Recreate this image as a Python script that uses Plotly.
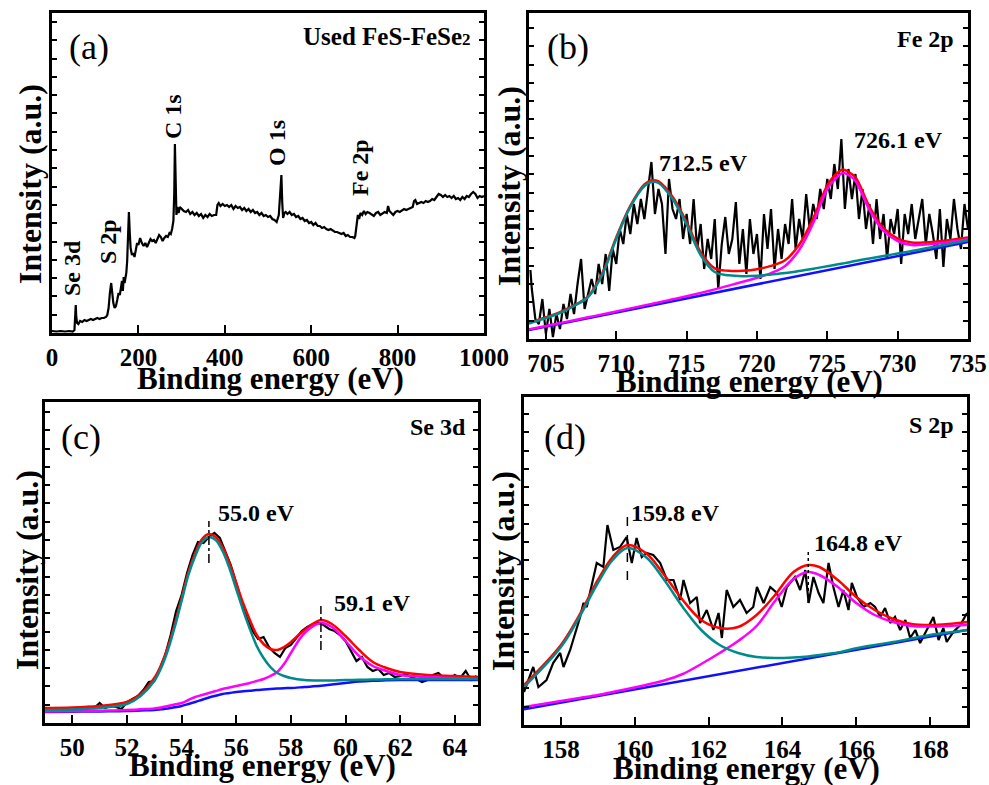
import plotly.graph_objects as go

W, H = 989, 785
FONT = "Liberation Serif"

# ---------------- Panel (a): survey spectrum ----------------
a_x = [0, 10, 20, 30, 40, 48, 52, 54, 55, 56, 58, 61, 65, 70, 75, 80, 85, 90, 95, 100, 105, 110, 115, 120, 125,
       128, 131, 134, 137, 139, 142, 145, 148, 151, 154, 157, 160, 162, 164, 166, 168, 170, 172, 174, 176, 178,
       180, 182, 185, 188, 191, 194, 197, 200, 204, 208, 212, 216, 220, 224, 228, 232, 236, 240, 244, 248, 252,
       256, 260, 264, 268, 272, 275, 278, 281, 283, 284.5, 286, 288, 290, 293, 296, 300, 305, 310, 315, 320, 325,
       330, 335, 340, 345, 350, 355, 360, 365, 370, 375, 380, 383, 386, 390, 395, 400, 405, 410, 415, 420, 425,
       430, 435, 440, 445, 450, 455, 460, 465, 470, 475, 480, 485, 490, 495, 500, 505, 510, 515, 520, 525, 528,
       531, 533, 535, 538, 541, 545, 550, 555, 560, 565, 570, 575, 580, 585, 590, 595, 600, 605, 610, 615, 620,
       625, 630, 635, 640, 645, 650, 655, 660, 665, 670, 675, 680, 685, 690, 695, 700, 702, 705, 708, 711, 714,
       718, 722, 726, 730, 735, 740, 745, 750, 755, 760, 765, 770, 775, 778, 781, 785, 790, 795, 800, 805, 810,
       815, 820, 825, 830, 835, 838, 841, 845, 850, 855, 860, 865, 870, 875, 880, 885, 890, 895, 900, 905, 910,
       915, 920, 925, 930, 935, 940, 945, 950, 955, 960, 965, 970, 975, 980, 985, 990, 995, 1000]
a_y = [2, 1.5, 2, 1.5, 2, 1.5, 3, 22, 28, 17, 10, 9, 12, 11, 13, 12, 13, 14, 13, 14, 15, 14, 15, 15, 16,
       18, 25, 40, 50, 42, 30, 25, 27, 33, 40, 38, 48, 52, 42, 56, 50, 56, 60, 72, 95, 121,
       100, 85, 78, 80, 76, 84, 90, 88, 95, 90, 87, 90, 86, 90, 94, 92, 93, 90, 95, 98, 96,
       92, 95, 97, 96, 100, 99, 104, 112, 140, 189, 135, 118, 126, 120, 126, 124, 122, 121, 123, 119, 121,
       118, 120, 117, 119, 115, 118, 116, 119, 117, 118, 118, 128, 130, 127, 129, 127, 128, 126, 128, 124, 127,
       125, 126, 123, 125, 122, 124, 121, 123, 120, 121, 118, 120, 117, 118, 116, 117, 114, 113, 111, 118, 140,
       158, 130, 115, 120, 121, 119, 121, 118, 119, 116, 117, 114, 115, 112, 113, 110, 111, 108, 110, 107, 107,
       105, 106, 104, 103, 104, 102, 101, 101, 100, 99, 100, 97, 98, 96, 96, 95, 97, 110, 118, 114, 120,
       118, 122, 119, 121, 120, 118, 117, 120, 121, 118, 120, 121, 120, 127, 122, 120, 118, 121, 122, 121, 123,
       124, 123, 124, 125, 126, 132, 133, 129, 130, 131, 130, 132, 131, 132, 134, 133, 136, 139, 138, 136, 138,
       136, 137, 135, 137, 134, 135, 133, 136, 134, 137, 136, 139, 141, 139, 135, 137, 136, 137]
a_peaks = ["Se 3d", "S 2p", "C 1s", "O 1s", "Fe 2p"]

# ---------------- Panel (b): Fe 2p ----------------
b_x = [703.9, 704.0, 704.25, 704.5, 704.75, 705.0, 705.25, 705.5, 705.75, 706.0, 706.25, 706.5, 706.75, 707.0,
       707.25, 707.5, 707.75, 708.0, 708.25, 708.5, 708.75, 709.0, 709.25, 709.5, 709.75, 710.0, 710.25, 710.5,
       710.75, 711.0, 711.25, 711.5, 711.75, 712.0, 712.25, 712.5, 712.75, 713.0, 713.25, 713.5, 713.75, 714.0,
       714.25, 714.5, 714.75, 715.0, 715.25, 715.5, 715.75, 716.0, 716.25, 716.5, 716.75, 717.0, 717.25, 717.5,
       717.75, 718.0, 718.25, 718.5, 718.75, 719.0, 719.25, 719.5, 719.75, 720.0, 720.25, 720.5, 720.75, 721.0,
       721.25, 721.5, 721.75, 722.0, 722.25, 722.5, 722.75, 723.0, 723.25, 723.5, 723.75, 724.0, 724.25, 724.5,
       724.75, 725.0, 725.25, 725.5, 725.75, 726.0, 726.25, 726.5, 726.75, 727.0, 727.25, 727.5, 727.75, 728.0,
       728.25, 728.5, 728.75, 729.0, 729.25, 729.5, 729.75, 730.0, 730.25, 730.5, 730.75, 731.0, 731.25, 731.5,
       731.75, 732.0, 732.25, 732.5, 732.75, 733.0, 733.25, 733.5, 733.75, 734.0, 734.25, 734.5, 734.75, 735.0]
b_y = [69, 50, 20, 15, 40, 5, 30, 2, 25, 10, 35, 20, 45, 25,
       55, 80, 30, 45, 60, 45, 75, 55, 85, 48, 90, 75, 110, 95,
       125, 105, 135, 115, 140, 120, 150, 177, 125, 150, 135, 85, 160, 130,
       120, 140, 100, 125, 95, 140, 90, 115, 70, 100, 80, 120, 50, 95,
       122, 85, 100, 137, 75, 110, 65, 120, 85, 105, 60, 125, 90, 130,
       70, 110, 80, 115, 95, 140, 90, 120, 100, 145, 110, 135, 120, 150,
       130, 160, 140, 175, 150, 200, 130, 170, 140, 165, 120, 150, 110, 135,
       95, 140, 100, 125, 80, 120, 105, 130, 75, 125, 105, 135, 100, 120,
       140, 95, 125, 105, 80, 130, 72, 120, 100, 140, 110, 90, 135, 110]
b_fit_x = [703.8, 704, 705, 706, 707, 708, 709, 710, 711, 712, 712.5, 713, 714, 715, 716, 717, 718, 719, 720,
           721, 722, 723, 724, 725, 725.5, 726.1, 726.5, 727, 728, 729, 730, 731, 732, 733, 735]
b_env = [16, 17, 21.7, 26.9, 33.6, 42.7, 65.4, 101.6, 133.1, 154.6, 158.6, 157.6, 142.2, 116.9, 86.9, 70.6,
         68.2, 68.3, 69.8, 73.1, 78.7, 94.2, 120.5, 153.7, 163, 169.5, 167, 161.7, 132.2, 110.8, 100.4, 96.5,
         96.6, 97.8, 101.6]
b_p1 = [15.5, 16.4, 21, 26, 33, 42, 64, 100, 132, 153, 157, 156, 140, 114.5, 84, 67, 63.7, 62.8, 63.2,
        64.5, 66, 68, 70.3, 72.7, 74, 75.5, 76.5, 78, 80.5, 83, 85.4, 88, 90.7, 93.3, 98.8]
b_p2 = [9.6, 10.2, 13.0, 15.9, 18.8, 21.7, 24.6, 27.6, 30.6, 33.6, 35.1, 36.6, 39.7, 42.8, 46.1, 49.6, 53.4,
        57.3, 61.2, 65.9, 73, 89, 116, 150, 159, 166, 164, 158, 129, 108, 98, 94, 94.5, 95.8, 99.8]
b_bg_x = [703.8, 735]
b_bg = [9, 97]

# ---------------- Panel (c): Se 3d ----------------
c_x = [49.0, 49.2, 49.4, 49.6, 49.8, 50.0, 50.2, 50.4, 50.6, 50.8, 51.0, 51.2, 51.4, 51.6, 51.8, 52.0, 52.2, 52.4,
       52.6, 52.8, 53.0, 53.2, 53.4, 53.6, 53.8, 54.0, 54.2, 54.4, 54.6, 54.8, 55.0, 55.2, 55.4, 55.6, 55.8, 56.0,
       56.2, 56.4, 56.6, 56.8, 57.0, 57.2, 57.4, 57.6, 57.8, 58.0, 58.2, 58.4, 58.6, 58.8, 59.0, 59.2, 59.4, 59.6,
       59.8, 60.0, 60.2, 60.4, 60.6, 60.8, 61.0, 61.2, 61.4, 61.6, 61.8, 62.0, 62.2, 62.4, 62.6, 62.8, 63.0, 63.2,
       63.4, 63.6, 63.8, 64.0, 64.2, 64.4, 64.6, 64.8]
c_y = [14, 13, 15, 12, 14, 13, 15, 14, 16, 15, 20, 15, 17, 16, 14, 21, 24, 27,
       33, 41, 42, 54, 68, 88, 112, 128, 150, 168, 181, 180, 186, 190, 185, 172, 158, 140,
       122, 104, 92, 84, 86, 76, 70, 66, 75, 78, 85, 92, 96, 99, 100, 98, 94, 92,
       88, 82, 72, 62, 66, 56, 52, 54, 48, 50, 46, 47, 49, 46, 44, 41, 43, 48,
       50, 45, 44, 48, 45, 52, 43, 47]
c_fit_x = [49, 50, 51, 51.5, 52, 52.5, 53, 53.25, 53.5, 53.75, 54, 54.25, 54.5, 54.75, 55, 55.25, 55.5, 55.75,
           56, 56.25, 56.5, 56.75, 57, 57.25, 57.5, 57.75, 58, 58.5, 59.1, 59.5, 60, 60.5, 61, 61.5, 62, 63, 64,
           64.85]
c_env = [15, 15.5, 17, 18.5, 21, 29, 45, 58, 76, 99, 125, 151, 170, 184, 189, 186, 176, 160,
         140, 120, 103, 88, 79, 74, 73, 76, 81, 93, 103, 99, 87, 73, 61, 55, 51, 48, 47, 46]
c_p1 = [13, 13.5, 15, 16.5, 19, 27, 42, 55, 73, 96, 122, 148, 167, 181, 186, 183, 172, 155,
        134, 113, 94, 77, 65, 56, 50, 47, 45, 43, 42.5, 42.6, 43, 43.2, 43.5, 43.7, 44, 44, 44, 44]
c_p2 = [11.5, 11.8, 12.2, 12.5, 13, 13.7, 14.5, 15.5, 17, 18.5, 20, 23, 26, 28, 30, 32, 34, 35.5,
        37, 38.5, 40, 42, 44, 47, 51, 59, 70, 90, 100, 96, 82, 67, 57, 52, 48, 46, 45, 44]
c_bg = [11, 11.3, 11.6, 11.8, 12, 12.5, 13, 13.7, 14.5, 15.7, 17, 19, 21, 23.3, 25.5, 27.3, 29, 30,
        31, 31.7, 32.3, 33, 33.5, 34, 34.4, 34.8, 35, 36, 37.2, 38.5, 40, 41.5, 42.3, 42.7, 43, 43, 43, 43]

# ---------------- Panel (d): S 2p ----------------
d_x = [157.0, 157.25, 157.39, 157.61, 157.79, 157.98, 158.07, 158.25, 158.52, 158.61, 158.7, 158.97, 159.15,
       159.26, 159.42, 159.6, 159.78, 159.92, 160.05, 160.19, 160.32, 160.5, 160.69, 160.87, 161.05, 161.23,
       161.32, 161.5, 161.68, 161.77, 161.95, 162.13, 162.27, 162.36, 162.49, 162.67, 162.85, 163.03, 163.21,
       163.31, 163.49, 163.67, 163.85, 163.98, 164.12, 164.34, 164.48, 164.62, 164.71, 164.84, 164.98, 165.11,
       165.25, 165.38, 165.52, 165.65, 165.79, 165.88, 166.02, 166.2, 166.38, 166.51, 166.65, 166.78, 166.92,
       167.05, 167.19, 167.33, 167.46, 167.6, 167.73, 167.91, 168.09, 168.23, 168.36, 168.45, 168.63, 168.82,
       169.0]
d_y = [33, 58, 38, 45, 62, 72, 58, 75, 108, 122, 118, 162, 158,
       200, 175, 178, 188, 162, 187, 168, 172, 170, 162, 145, 145, 125,
       145, 122, 128, 102, 115, 95, 112, 87, 135, 118, 125, 112, 118,
       138, 122, 138, 132, 118, 138, 148, 135, 155, 122, 148, 132, 122,
       162, 138, 118, 135, 115, 142, 128, 118, 122, 118, 108, 117, 102,
       108, 95, 105, 87, 95, 82, 95, 108, 85, 97, 83, 93, 100,
       112]
d_fit_x = [157, 158, 158.5, 159, 159.4, 159.8, 160.3, 160.8, 161.3, 161.8, 162.3, 162.8, 163.3, 163.8, 164.3,
           164.7, 165, 165.5, 166, 166.5, 167, 167.5, 168, 168.5, 169]
d_env = [40, 80, 110, 145, 168, 180, 172, 150, 125, 105, 97, 98, 110, 130, 153,
         160, 158, 145, 128, 115, 106, 101, 100, 101, 103]
d_p1 = [38, 78, 108, 142, 165, 177, 168, 145, 118, 95, 80, 72, 68, 67, 67.5,
        68.5, 70, 72.5, 76.7, 80, 83, 86.5, 90, 92.5, 95]
d_p2 = [18, 24, 27, 30, 33, 36, 40, 44.5, 51, 61, 72, 84, 99, 124, 146,
        153, 150, 138, 122, 110, 103, 99, 98.5, 99, 100]
d_bg_x = [157, 169]
d_bg = [15.7, 95]

BLACK, RED, TEAL, MAG, BLUE = "#000000", "#ff0000", "#008b8b", "#ff00ff", "#1010ff"

fig = go.Figure()


def line(x, y, color, ax, width=2.5, shape="linear", dash="solid"):
    fig.add_trace(go.Scatter(x=x, y=y, mode="lines", xaxis="x" + ax, yaxis="y" + ax,
                             line=dict(color=color, width=width, shape=shape, dash=dash),
                             showlegend=False, hoverinfo="skip"))


# panel a
line(a_x, a_y, BLACK, "", width=2.2)
# panel b
line(b_x, b_y, BLACK, "2", width=2.2)
line(b_fit_x, b_env, RED, "2", shape="spline")
line(b_bg_x, b_bg, BLUE, "2")
line(b_fit_x, b_p2, MAG, "2", shape="spline")
line(b_fit_x, b_p1, TEAL, "2", shape="spline")
# panel c
line(c_x, c_y, BLACK, "3", width=2.2)
line(c_fit_x, c_env, RED, "3", shape="spline")
line(c_fit_x, c_bg, BLUE, "3", shape="spline")
line(c_fit_x, c_p2, MAG, "3", shape="spline")
line(c_fit_x, c_p1, TEAL, "3", shape="spline")
line([55.0, 55.0], [160, 202], BLACK, "3", width=1.5, dash="dashdot")
line([59.1, 59.1], [73, 117], BLACK, "3", width=1.5, dash="dashdot")
# panel d
line(d_x, d_y, BLACK, "4", width=2.2)
line(d_fit_x, d_env, RED, "4", shape="spline")
line(d_bg_x, d_bg, BLUE, "4")
line(d_fit_x, d_p2, MAG, "4", shape="spline")
line(d_fit_x, d_p1, TEAL, "4", shape="spline")
line([159.8, 159.8], [145, 208], BLACK, "4", width=1.5, dash="dash")
line([164.7, 164.7], [122, 176], BLACK, "4", width=1.5, dash="dot")

# ---------------- axes ----------------
panels = {
    "": dict(px=(52, 484), py=(13, 333), xr=[0, 1000], yr=[0, 320], tv=[0, 200, 400, 600, 800, 1000]),
    "2": dict(px=(529, 968), py=(13, 339), xr=[703.8, 735], yr=[0, 326], tv=[705, 710, 715, 720, 725, 730, 735]),
    "3": dict(px=(45, 478), py=(402, 723), xr=[49, 64.85], yr=[0, 321], tv=[50, 52, 54, 56, 58, 60, 62, 64]),
    "4": dict(px=(524, 967), py=(397, 725), xr=[157, 169], yr=[0, 328], tv=[158, 160, 162, 164, 166, 168]),
}
lay = {}
for k, p in panels.items():
    lay["xaxis" + k] = dict(
        domain=[p["px"][0] / W, p["px"][1] / W], range=p["xr"], anchor="y" + k,
        tickvals=p["tv"], ticks="inside", ticklen=8, tickwidth=2, tickcolor="black",
        showline=True, linewidth=3, linecolor="black", mirror=True,
        showgrid=False, zeroline=False, automargin=False,
        tickfont=dict(family=FONT, size=25, color="black", weight="bold"))
    lay["yaxis" + k] = dict(
        domain=[1 - p["py"][1] / H, 1 - p["py"][0] / H], range=p["yr"], anchor="x" + k,
        tick0=0, dtick=18.3, ticks="inside", ticklen=5, tickwidth=1.5, tickcolor="black",
        showticklabels=False, showline=True, linewidth=3, linecolor="black", mirror="allticks",
        showgrid=False, zeroline=False, automargin=False)

ann = []


def text(t, x, y, size, bold=True, xanchor="center", yanchor="middle", angle=0, xref="paper", yref="paper"):
    if xref == "paper":
        x = x / W
    if yref == "paper":
        y = 1 - y / H
    ann.append(dict(text=t, x=x, y=y, xref=xref, yref=yref, showarrow=False, xanchor=xanchor,
                    yanchor=yanchor, textangle=angle, borderpad=0,
                    font=dict(family=FONT, size=size, color="black", weight="bold" if bold else "normal")))


# axis titles
for cx, cy in [(270, 378), (749, 381), (262, 765), (746, 768)]:
    text("Binding energy (eV)", cx, cy, 31)
for cx, cy in [(30, 184), (509, 186), (27, 570), (503, 571)]:
    text("Intensity (a.u.)", cx, cy, 32, angle=-90)

# panel letters
text("(a)", 89, 47, 36, bold=False)
text("(b)", 568, 47, 36, bold=False)
text("(c)", 81, 437, 36, bold=False)
text("(d)", 565, 437, 36, bold=False)

# panel titles
text("Used FeS-FeSe<span style='font-size:17px'>2</span>", 472, 37, 25, xanchor="right")
text("Fe 2p", 955, 39, 24, xanchor="right")
text("Se 3d", 467, 427, 24, xanchor="right")
text("S 2p", 955, 425, 24, xanchor="right")

# survey peak labels (rotated)
for lab, cx, cy in zip(a_peaks, [72, 108, 173, 277, 360], [268, 242, 117, 143, 168]):
    text(lab, cx, cy, 24, angle=-90)

# peak position labels
text("712.5 eV", 713.0, 176, 24, xanchor="left", xref="x2", yref="y2")
text("726.1 eV", 726.8, 199, 24, xanchor="left", xref="x2", yref="y2")
text("55.0 eV", 55.3, 210, 24, xanchor="left", xref="x3", yref="y3")
text("59.1 eV", 59.55, 120, 24, xanchor="left", xref="x3", yref="y3")
text("159.8 eV", 159.87, 212, 24, xanchor="left", xref="x4", yref="y4")
text("164.8 eV", 164.83, 182, 24, xanchor="left", xref="x4", yref="y4")

fig.update_layout(width=W, height=H, margin=dict(l=0, r=0, t=0, b=0, autoexpand=False),
                  paper_bgcolor="white", plot_bgcolor="white", showlegend=False,
                  annotations=ann, **lay)
fig.write_html("out.html", config={"displayModeBar": False},
               post_script="document.body.style.margin='0px';document.body.style.overflow='hidden';")
